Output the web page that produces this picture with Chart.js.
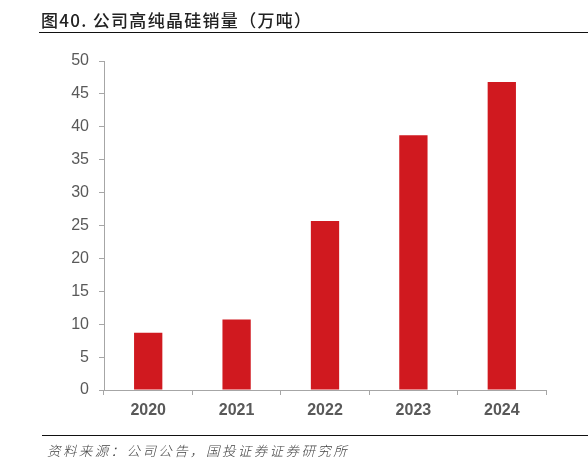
<!DOCTYPE html>
<html>
<head>
<meta charset="utf-8">
<script src="https://cdn.jsdelivr.net/npm/chart.js@4"></script>
<style>
  html, body { margin: 0; padding: 0; background: #fff; }
  #wrap { position: relative; width: 588px; height: 467px; overflow: hidden; }
  #chart { position: absolute; left: 0; top: 0; }
  #title { position: absolute; left: 41px; top: 9px; font-family: "Noto Sans CJK SC", sans-serif; font-weight: 500; font-size: 17px; letter-spacing: 1.3px; color: #222; white-space: nowrap; line-height: 22px; }
  #tline { position: absolute; left: 39px; top: 32px; width: 549px; height: 0; border-top: 1.5px solid #111; }
  #bline { position: absolute; left: 42px; top: 435px; width: 546px; height: 0; border-top: 1.5px solid #111; }
  #source { position: absolute; left: 47px; top: 440px; font-family: "Noto Sans CJK SC", sans-serif; font-style: italic; font-weight: 300; font-size: 13.5px; letter-spacing: 2.4px; color: #444; white-space: nowrap; line-height: 20px; }
</style>
</head>
<body>
<div id="wrap">
  <canvas id="chart" width="588" height="467"></canvas>
  <div id="title">图40. 公司高纯晶硅销量（万吨）</div>
  <div id="tline"></div>
  <div id="bline"></div>
  <div id="source">资料来源：公司公告，国投证券证券研究所</div>
</div>
<script>
const categories = ["2020", "2021", "2022", "2023", "2024"];
const salesValues = [8.7, 10.7, 25.7, 38.7, 46.8];
const yTicks = [0, 5, 10, 15, 20, 25, 30, 35, 40, 45, 50];

const canvas = document.getElementById('chart');
new Chart(canvas, {
  type: 'bar',
  data: {
    labels: categories,
    datasets: [{
      data: salesValues,
      backgroundColor: '#D0191F',
      borderWidth: 0,
      categoryPercentage: 1,
      barPercentage: 0.32
    }]
  },
  options: {
    responsive: false,
    animation: false,
    devicePixelRatio: 1,
    layout: { padding: { top: 61, right: 42, bottom: 37, left: 0 } },
    plugins: { legend: { display: false }, tooltip: { enabled: false }, title: { display: false } },
    scales: {
      x: {
        offset: true,
        grid: { display: true, drawOnChartArea: false, offset: true, tickLength: 5, color: '#a6a6a6', lineWidth: 1 },
        border: { display: true, color: '#a6a6a6', width: 1 },
        ticks: { color: '#595959', font: { family: 'Liberation Sans, Arial, sans-serif', size: 16, weight: 'bold' }, padding: 6, maxRotation: 0 },
        afterFit: (s) => { s.height = 40; }
      },
      y: {
        min: 0,
        max: 50,
        afterBuildTicks: (s) => { s.ticks = yTicks.map(v => ({ value: v })); },
        grid: { display: true, drawOnChartArea: false, tickLength: 5, color: '#a6a6a6', lineWidth: 1 },
        border: { display: true, color: '#a6a6a6', width: 1 },
        ticks: { color: '#595959', font: { family: 'Liberation Sans, Arial, sans-serif', size: 16 }, padding: 10 },
        afterFit: (s) => { s.width = 104; }
      }
    }
  }
});
</script>
</body>
</html>
